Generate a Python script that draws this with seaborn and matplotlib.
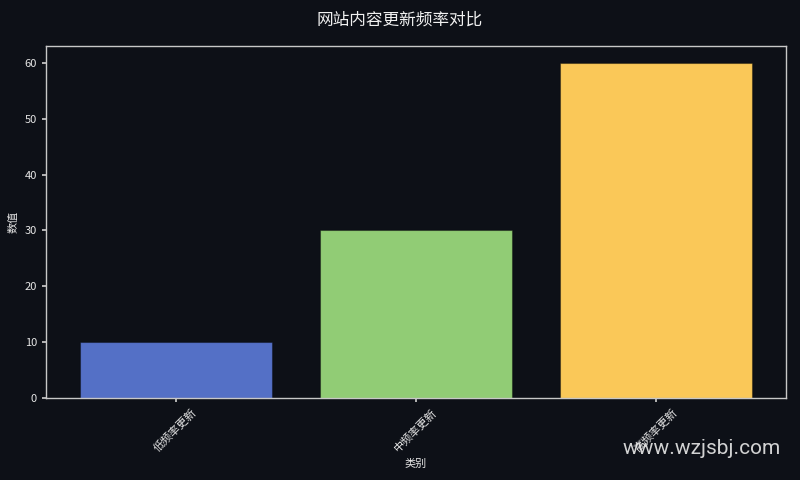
import matplotlib
matplotlib.use("Agg")
import matplotlib.pyplot as plt
import pandas as pd
import seaborn as sns

categories = ["低频率更新", "中频率更新", "高频率更新"]
values = [10, 30, 60]
bar_colors = ["#5470c6", "#91cc75", "#fac858"]

bg = "#0d1017"
sns.set_theme(style="dark")
plt.rcParams["font.family"] = ["Noto Sans CJK SC", "DejaVu Sans"]
plt.rcParams["axes.unicode_minus"] = False

df = pd.DataFrame({"类别": categories, "数值": values})

fig = plt.figure(figsize=(8, 4.8), dpi=100, facecolor=bg)
ax = fig.add_axes([0.0575, 0.171, 0.925, 0.733])
ax.set_facecolor(bg)

sns.barplot(data=df, x="类别", y="数值", hue="类别", palette=bar_colors,
            width=0.8, legend=False, ax=ax, edgecolor=(0, 0, 0, 0.35),
            linewidth=0.8, saturation=1)

ax.set_xlim(-0.54, 2.54)
ax.set_ylim(0, 63)
ax.set_yticks([0, 10, 20, 30, 40, 50, 60])

for s in ax.spines.values():
    s.set_color("#c8c8c8")
    s.set_linewidth(1)

ax.tick_params(axis="both", colors="#e6e6e6", labelsize=8, length=3,
               bottom=True, left=True, color="#c8c8c8")
plt.setp(ax.get_xticklabels(), rotation=45, ha="center")
ax.set_xlabel("类别", color="#e6e6e6", fontsize=8)
ax.set_ylabel("数值", color="#e6e6e6", fontsize=8)
ax.grid(False)

fig.suptitle("网站内容更新频率对比", color="#f0f0f0", fontsize=12, y=0.975)

fig.text(0.976, 0.065, "www.wzjsbj.com", color="#e8e8e8", fontsize=15,
         ha="right", va="center", family=["Roboto", "DejaVu Sans"],
         alpha=0.9)

fig.savefig("out.png", dpi=100, facecolor=bg)
